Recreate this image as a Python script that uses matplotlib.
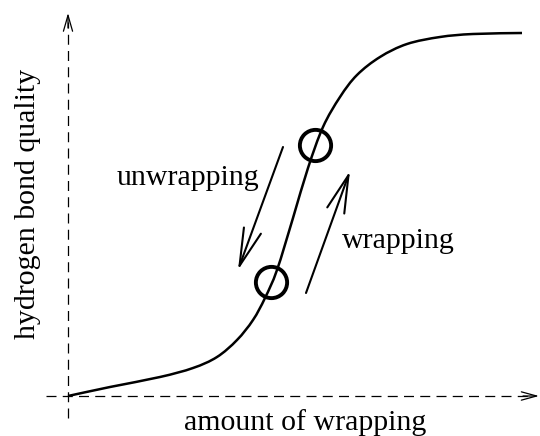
import matplotlib.pyplot as plt
from matplotlib.path import Path
from matplotlib.patches import PathPatch

# curve (origin at the crossing of the two axes)
curve_x = [0, 42, 92, 125, 149, 169, 185, 197, 209, 225, 240, 255, 272, 289, 312, 339, 372, 405, 454]
curve_y = [0, 9, 19, 28, 39, 56, 76, 98, 126, 178, 228, 269, 299, 321, 339, 352, 359, 362, 363]

circle_x = [203, 247]
circle_y = [114, 251]

# arrows: (start, end)
unwrap_arrow = ((215, 249), (170, 126))
wrap_arrow = ((238, 103), (282, 225))

labels = ['unwrapping', 'wrapping']
xlabel = 'amount of wrapping'
ylabel = 'hydrogen bond quality'


def smooth_path(xs, ys):
    # catmull-rom through the points, written as cubic bezier segments
    pts = list(zip(xs, ys))
    verts = [pts[0]]
    codes = [Path.MOVETO]
    for i in range(len(pts) - 1):
        p0 = pts[i - 1] if i > 0 else pts[i]
        p1 = pts[i]
        p2 = pts[i + 1]
        p3 = pts[i + 2] if i + 2 < len(pts) else pts[i + 1]
        c1 = (p1[0] + (p2[0] - p0[0]) / 6, p1[1] + (p2[1] - p0[1]) / 6)
        c2 = (p2[0] - (p3[0] - p1[0]) / 6, p2[1] - (p3[1] - p1[1]) / 6)
        verts += [c1, c2, p2]
        codes += [Path.CURVE4] * 3
    return Path(verts, codes)


plt.rcParams['font.family'] = ['Liberation Serif', 'DejaVu Serif']

fig = plt.figure(figsize=(5.4, 4.36), dpi=100)
ax = fig.add_axes([0, 0, 1, 1])
ax.set_xlim(-68, 472)
ax.set_ylim(-40, 396)
ax.axis('off')

# dashed axes
ax.plot([0, 0], [-22, 374], color='black', lw=0.9, dashes=(8, 5))
ax.plot([-22, 460], [0, 0], color='black', lw=0.9, dashes=(8, 5))
ax.annotate('', xy=(0, 383), xytext=(0, 368),
            arrowprops=dict(arrowstyle='->,head_length=1.15,head_width=0.33', lw=0.9,
                            color='black', shrinkA=0, shrinkB=0))
ax.annotate('', xy=(471, 0), xytext=(455, 0),
            arrowprops=dict(arrowstyle='->,head_length=1.1,head_width=0.3', lw=0.9,
                            color='black', shrinkA=0, shrinkB=0))

ax.add_patch(PathPatch(smooth_path(curve_x, curve_y), facecolor='none',
                       edgecolor='black', lw=1.8))
ax.plot(circle_x, circle_y, 'o', ms=22.5, mfc='none', mec='black', mew=2.8)

for (x0, y0), (x1, y1) in [unwrap_arrow, wrap_arrow]:
    ax.annotate('', xy=(x1, y1), xytext=(x0, y0),
                arrowprops=dict(arrowstyle='->,head_length=2.7,head_width=0.65',
                                lw=1.5, color='black', shrinkA=0, shrinkB=0))

ax.text(120, 211, labels[0], fontsize=21.5, ha='center', va='baseline')
ax.text(330, 148, labels[1], fontsize=21.5, ha='center', va='baseline')
ax.text(237, -34, xlabel, fontsize=21.5, ha='center', va='baseline')
ax.text(-40, 192, ylabel, fontsize=21.5, ha='center', va='center', rotation=90)

fig.savefig('out.png', dpi=100)
